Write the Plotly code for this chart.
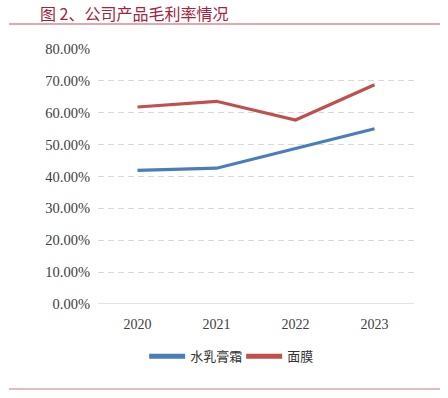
import plotly.graph_objects as go

years = ["2020", "2021", "2022", "2023"]
lotion_cream = [41.9, 42.6, 48.8, 55.0]
face_mask = [61.8, 63.6, 57.7, 68.8]
series_names = ["水乳膏霜", "面膜"]
title_text = "图 2、公司产品毛利率情况"
y_ticks = [0, 10, 20, 30, 40, 50, 60, 70, 80]
y_tick_labels = [f"{v:.2f}%" for v in y_ticks]

SERIF = "Liberation Serif"
CJK = "Noto Sans CJK SC"

fig = go.Figure()
fig.add_trace(go.Scatter(x=years, y=lotion_cream, mode="lines", name=series_names[0],
                         line=dict(color="#4a7ebb", width=3.2)))
fig.add_trace(go.Scatter(x=years, y=face_mask, mode="lines", name=series_names[1],
                         line=dict(color="#c0504d", width=3.2)))

fig.update_layout(
    width=448, height=398,
    margin=dict(l=98, r=34, t=49, b=94),
    paper_bgcolor="white", plot_bgcolor="white",
    showlegend=True,
    legend=dict(orientation="h", x=0.453, xanchor="center", y=-0.205, yanchor="middle",
                font=dict(family=CJK, size=13, color="#333333"),
                itemwidth=36, tracegroupgap=0, itemsizing="constant",
                entrywidth=46, entrywidthmode="pixels"),
    xaxis=dict(type="category", range=[-0.5, 3.5], showgrid=False, showline=False,
               zeroline=False, ticks="", automargin=False, ticklabelstandoff=10,
               tickfont=dict(family=SERIF, size=14, color="#404040")),
    yaxis=dict(range=[0, 80], tickvals=y_ticks, ticktext=y_tick_labels,
               showgrid=True, gridcolor="#d9d9d9", griddash="6px,4px", gridwidth=1,
               zeroline=False, showline=False, ticks="", ticklabelstandoff=7,
               automargin=False,
               tickfont=dict(family=SERIF, size=14.5, color="#404040")),
)

# solid baseline at 0
fig.add_shape(type="line", xref="paper", yref="y", x0=0, x1=1, y0=0, y1=0,
              line=dict(color="#d9d9d9", width=1.5))

# title and rules
fig.add_annotation(text=title_text, xref="paper", yref="paper",
                   x=(38 - 98) / 316, y=(304 - 12.5) / 255, xanchor="left", yanchor="middle",
                   showarrow=False,
                   font=dict(family=CJK, size=16, color="#a3243f"))
fig.add_shape(type="line", xref="paper", yref="paper",
              x0=(9 - 98) / 316, x1=(440 - 98) / 316,
              y0=(304 - 24) / 255, y1=(304 - 24) / 255,
              line=dict(color="#d98a8f", width=1.5))
fig.add_shape(type="line", xref="paper", yref="paper",
              x0=(9 - 98) / 316, x1=(440 - 98) / 316,
              y0=(304 - 389) / 255, y1=(304 - 389) / 255,
              line=dict(color="#c9787a", width=1.2))

fig.write_html("out.html", config={"displayModeBar": False},
               post_script="document.body.style.margin='0';document.body.style.padding='0';")
